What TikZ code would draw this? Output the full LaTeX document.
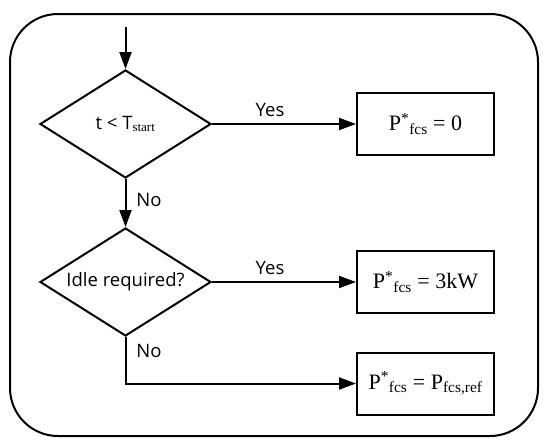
\documentclass[tikz,border=0pt]{standalone}
\usepackage{fontspec}
\setmainfont{Liberation Serif}
\setsansfont{Open Sans}
\usetikzlibrary{shapes.geometric,arrows.meta}
\begin{document}
\begin{tikzpicture}[x=1pt,y=-1pt,
  line width=2pt,
  dec/.style={diamond,draw,minimum width=171pt,minimum height=108pt,inner sep=0pt,aspect=1.58,font=\sffamily\fontsize{18.5}{20}\selectfont},
  act/.style={rectangle,draw,minimum width=137pt,minimum height=62pt,inner sep=0pt,font=\rmfamily\fontsize{22}{24}\selectfont},
  lbl/.style={font=\sffamily\fontsize{18.5}{20}\selectfont,inner sep=0pt},
  arr/.style={-{Triangle[length=17pt,width=12pt]}}]
\useasboundingbox (0,0) rectangle (550,448);
\draw[rounded corners=48pt] (10,14) rectangle (538,436);
\coordinate (start) at (125.5,27);
\node[dec] (d1) at (125.5,124) {t \textless{} T{\rmfamily\textsubscript{start}}};
\node[dec] (d2) at (125.5,282) {Idle required?};
\node[act] (b1) at (425.5,124) {P\textsuperscript{*}\textsubscript{fcs} = 0};
\node[act] (b2) at (425.5,282) {P\textsuperscript{*}\textsubscript{fcs} = 3kW};
\node[act] (b3) at (425.5,383.5) {P\textsuperscript{*}\textsubscript{fcs} = P\textsubscript{fcs,ref}};
\draw[arr] (start) -- (d1.north);
\draw[arr] (d1.south) -- (d2.north);
\draw[arr] (d1.east) -- (b1.west);
\draw[arr] (d2.east) -- (b2.west);
\draw[arr] (d2.south) |- (b3.west);
\node[lbl] (y1) at (270,110) {Yes};
\node[lbl] (y2) at (270,268) {Yes};
\node[lbl] (n1) at (149,200) {No};
\node[lbl] (n2) at (149,351) {No};
\end{tikzpicture}
\end{document}
